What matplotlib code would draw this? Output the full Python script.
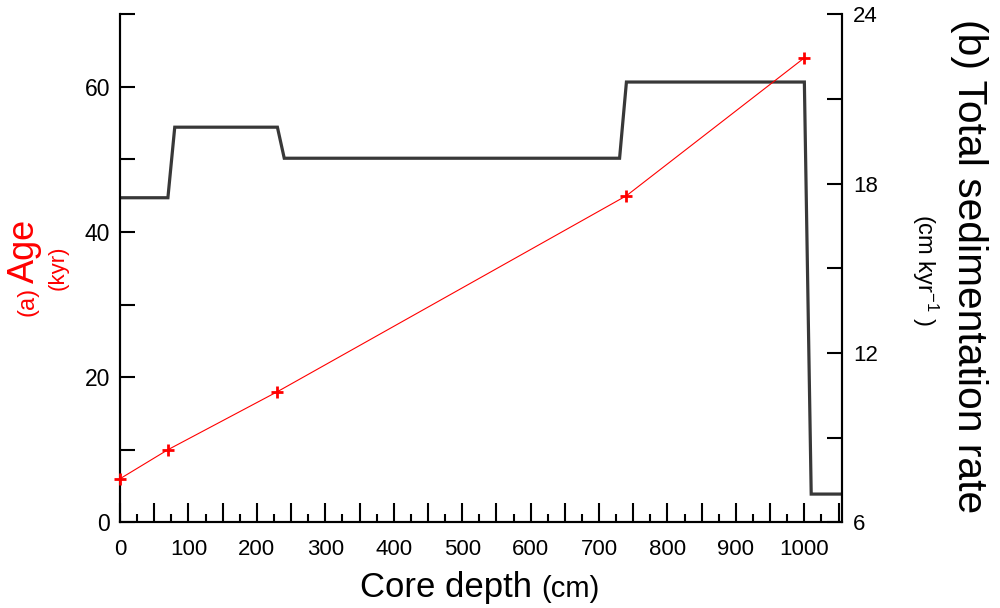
import matplotlib
matplotlib.use("Agg")
import matplotlib.pyplot as plt
from matplotlib.ticker import MultipleLocator, FuncFormatter

plt.rcParams['font.family'] = ['Liberation Sans', 'DejaVu Sans']
plt.rcParams['mathtext.fontset'] = 'custom'
plt.rcParams['mathtext.rm'] = 'Liberation Sans'
plt.rcParams['mathtext.it'] = 'Liberation Sans'
plt.rcParams['mathtext.default'] = 'regular'

# Age model (red crosses)
age_depth_cm = [0, 70, 230, 740, 1000]
age_kyr = [6, 10, 18, 45, 64]

# Total sedimentation rate (black line)
rate_depth_cm = [0, 70, 80, 230, 240, 730, 740, 1000, 1010, 1053]
rate_cm_kyr = [17.5, 17.5, 20, 20, 18.9, 18.9, 21.6, 21.6, 7, 7]

x_ticks_labeled = [0, 100, 200, 300, 400, 500, 600, 700, 800, 900, 1000]
left_labels = [0, 20, 40, 60]
right_labels = [6, 12, 18, 24]

fig = plt.figure(figsize=(10, 6.08), dpi=100)
ax = fig.add_axes([0.120, 1 - 522.3 / 608, 0.722, (522.3 - 14.3) / 608])
ax2 = ax.twinx()

ax2.plot(rate_depth_cm, rate_cm_kyr, color='#383838', lw=2.3, solid_joinstyle='miter', zorder=2)
ax.plot(age_depth_cm, age_kyr, color='#ff0000', lw=0.8, marker='+', markersize=9,
        mew=2.0, zorder=3, clip_on=False)

ax.set_zorder(ax2.get_zorder() + 1)
ax.patch.set_visible(False)

ax.set_xlim(0, 1055)
ax.set_ylim(0, 70)
ax2.set_ylim(6, 24)

for a in (ax, ax2):
    a.spines['top'].set_visible(False)
    for s in a.spines.values():
        s.set_linewidth(1.5)

# x ticks
ax.xaxis.set_major_locator(MultipleLocator(50))
ax.xaxis.set_minor_locator(MultipleLocator(25))
ax.xaxis.set_major_formatter(FuncFormatter(lambda v, p: f"{int(round(v))}" if int(round(v)) in x_ticks_labeled else ""))
ax.tick_params(axis='x', which='major', direction='in', length=13.7, width=1.5, labelsize=16, pad=12)
ax.tick_params(axis='x', which='minor', direction='in', length=5.8, width=1.5)

# left y ticks
ax.yaxis.set_major_locator(MultipleLocator(10))
ax.yaxis.set_major_formatter(FuncFormatter(lambda v, p: f"{int(round(v))}" if int(round(v)) in left_labels else ""))
ax.tick_params(axis='y', which='major', direction='in', length=10.8, width=1.5, labelsize=16.5, pad=7)

# right y ticks
ax2.yaxis.set_major_locator(MultipleLocator(3))
ax2.yaxis.set_major_formatter(FuncFormatter(lambda v, p: f"{int(round(v))}" if int(round(v)) in right_labels else ""))
ax2.tick_params(axis='y', which='major', direction='in', length=10.8, width=1.5, labelsize=16, pad=8)

# x label
fig.text(532 / 1000, 1 - 597 / 608, "Core depth", fontsize=25, ha='right', va='baseline')
fig.text(541 / 1000, 1 - 597 / 608, "(cm)", fontsize=21, ha='left', va='baseline')

# left label
red = '#ff0000'
fig.text(34 / 1000, 1 - 283 / 608, "Age", fontsize=26, color=red, rotation=90,
         rotation_mode='anchor', ha='left', va='baseline')
fig.text(34 / 1000, 1 - 287 / 608, "(a)", fontsize=17, color=red, rotation=90,
         rotation_mode='anchor', ha='right', va='baseline')
fig.text(64 / 1000, 1 - 268 / 608, "(kyr)", fontsize=16, color=red, rotation=90,
         rotation_mode='anchor', ha='center', va='baseline')

# right label
fig.text(958 / 1000, 1 - 266 / 608, "(b) Total sedimentation rate", fontsize=29.3, rotation=-90,
         rotation_mode='anchor', ha='center', va='baseline')
fig.text(917 / 1000, 1 - 270 / 608, "(cm kyr$^{-1}$ )", fontsize=17, rotation=-90,
         rotation_mode='anchor', ha='center', va='baseline')

fig.savefig("out.png", dpi=100)
